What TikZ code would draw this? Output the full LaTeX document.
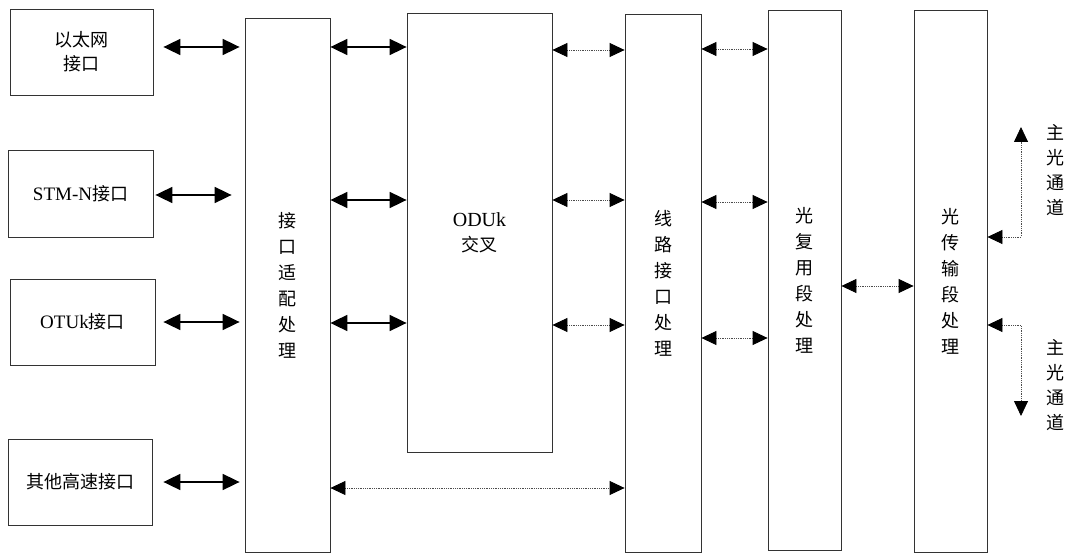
\documentclass[tikz,border=0pt]{standalone}
\usepackage{fontspec}
\setmainfont{Liberation Serif}
\newfontfamily\cjk{Noto Sans CJK SC}
\usetikzlibrary{arrows.meta}
\begin{document}
\begin{tikzpicture}[x=1pt,y=-1pt,
  box/.style={draw=black!80,line width=0.8pt,inner sep=0pt,align=center,
    font={\cjk\fontsize{18}{26}\selectfont}},
  solidarr/.style={line width=1.8pt,
    {Triangle[length=17pt,width=16pt]}-{Triangle[length=17pt,width=16pt]}},
  dotarr/.style={line width=0.8pt,black!70,densely dotted,
    {Triangle[length=15pt,width=14pt,color=black]}-{Triangle[length=15pt,width=14pt,color=black]}},
  lbl/.style={align=center,inner sep=0pt,font={\cjk\fontsize{18}{25}\selectfont}}]
\useasboundingbox (0,0) rectangle (1070,553);
% left interface boxes
\node[box,minimum width=143pt,minimum height=86pt,font={\cjk\fontsize{18}{24}\selectfont}] (eth) at (81.5,52) {以太网\\接口};
\node[box,minimum width=145pt,minimum height=87pt] (stm) at (80.5,193.5) {{\rmfamily\fontsize{19}{26}\selectfont STM-N}接口};
\node[box,minimum width=145pt,minimum height=86pt] (otu) at (82.5,322) {{\rmfamily\fontsize{19}{26}\selectfont OTUk}接口};
\node[box,minimum width=144pt,minimum height=86pt] (oth) at (80,482) {其他高速接口};
% tall processing boxes
\node[box,minimum width=85pt,minimum height=534pt] (adapt) at (287.5,285) {接\\口\\适\\配\\处\\理};
\node[box,minimum width=145pt,minimum height=439pt,font={\cjk\fontsize{18}{25}\selectfont}] (odu) at (479.5,232.5) {{\rmfamily\fontsize{20}{25}\selectfont ODUk}\\交叉};
\node[box,minimum width=76pt,minimum height=538pt] (line) at (663,283) {线\\路\\接\\口\\处\\理};
\node[box,minimum width=73pt,minimum height=540pt] (oms) at (804.5,280) {光\\复\\用\\段\\处\\理};
\node[box,minimum width=73pt,minimum height=542pt] (ots) at (950.5,281) {光\\传\\输\\段\\处\\理};
% solid arrows
\draw[solidarr,shorten <=10pt,shorten >=5pt] (eth.east |- 0,47) -- (adapt.west |- 0,47);
\draw[solidarr] (adapt.east |- 0,47) -- (odu.west |- 0,47);
\draw[solidarr,shorten <=2pt,shorten >=13pt] (stm.east |- 0,195) -- (adapt.west |- 0,195);
\draw[solidarr] (adapt.east |- 0,200) -- (odu.west |- 0,200);
\draw[solidarr,shorten <=8pt,shorten >=5pt] (otu.east |- 0,322) -- (adapt.west |- 0,322);
\draw[solidarr] (adapt.east |- 0,323) -- (odu.west |- 0,323);
\draw[solidarr,shorten <=11pt,shorten >=5pt] (oth.east |- 0,482) -- (adapt.west |- 0,482);
% dotted arrows
\draw[dotarr] (odu.east |- 0,50) -- (line.west |- 0,50);
\draw[dotarr] (odu.east |- 0,200) -- (line.west |- 0,200);
\draw[dotarr] (odu.east |- 0,325) -- (line.west |- 0,325);
\draw[dotarr] (line.east |- 0,49) -- (oms.west |- 0,49);
\draw[dotarr] (line.east |- 0,202) -- (oms.west |- 0,202);
\draw[dotarr] (line.east |- 0,338) -- (oms.west |- 0,338);
\draw[dotarr] (oms.east |- 0,286) -- (ots.west |- 0,286);
\draw[dotarr] (adapt.east |- 0,488) -- (line.west |- 0,488);
% main optical channel
\coordinate (up) at (1021,127);
\coordinate (down) at (1021,416);
\draw[dotarr] (ots.east |- 0,237) -| (up);
\draw[dotarr] (ots.east |- 0,325) -| (down);
\node[lbl] (ch1) at (1055,170.5) {主\\光\\通\\道};
\node[lbl] (ch2) at (1055,385.5) {主\\光\\通\\道};
\end{tikzpicture}
\end{document}
